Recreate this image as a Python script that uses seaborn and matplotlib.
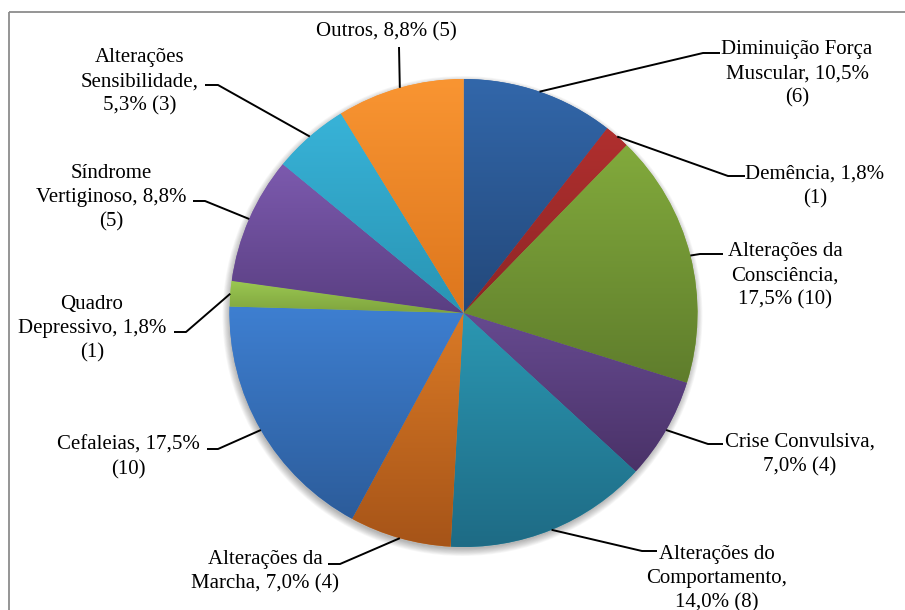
import textwrap

import numpy as np
import matplotlib
matplotlib.use("Agg")
import matplotlib.pyplot as plt
import seaborn as sns
from matplotlib.patches import Circle, Rectangle

# categories and counts, clockwise from 12 o'clock
categories = [
    "Diminuição Força Muscular",
    "Demência",
    "Alterações da Consciência",
    "Crise Convulsiva",
    "Alterações do Comportamento",
    "Alterações da Marcha",
    "Cefaleias",
    "Quadro Depressivo",
    "Síndrome Vertiginoso",
    "Alterações Sensibilidade",
    "Outros",
]
counts = [6, 1, 10, 4, 8, 4, 10, 1, 5, 3, 5]

# slice gradient (top -> bottom)
top_colors = ["#3267AA", "#B02F2E", "#82AA3C", "#664A90", "#2B97B2", "#DA7A26",
              "#3E7FD1", "#9BC852", "#7C5AAE", "#38B3D8", "#F99532"]
bottom_colors = ["#23487A", "#8E2626", "#5F7D2C", "#4A3268", "#1E6B85", "#A65418",
                 "#2C5C9A", "#7FA43E", "#5A3F82", "#2994B3", "#DD761D"]

# label layout in pixels: wrap width, text centre x, first line y, elbow points
wrap_widths = [17, 15, 13, 17, 14, 16, 17, 16, 17, 14, 20]
text_pos = [(797, 47), (815, 172), (785, 249), (800, 440), (717, 552), (265, 557),
            (128, 443), (92, 302), (111, 171), (140, 55), (386, 29)]
elbow_a = [(703, 53), (728, 176), (700, 254), (708, 444), (642, 551), (340, 564),
           (218, 449), (186, 332), (205, 201), (218, 85), (399, 47)]
elbow_b = [(720, 53), (745, 176), (723, 254), (723, 444), (657, 551), (328, 564),
           (207, 449), (174, 332), (193, 201), (205, 85), (399, 47)]

sns.set_style("white")
plt.rcParams['font.family'] = ['Liberation Serif', 'DejaVu Serif']

W, H = 905, 610
fig = plt.figure(figsize=(W / 100, H / 100), dpi=100)
ax = fig.add_axes([0, 0, 1, 1])

cx, cy, r = 463.5, 313, 234

# soft shadow under the pie
for k in range(10):
    ax.add_patch(Circle((cx - 1, cy + 3), r + 6 - k * 0.8, facecolor='black',
                        edgecolor='none', alpha=0.03, zorder=0))

wedges, _ = ax.pie(counts, center=(cx, cy), radius=r, startangle=-90,
                   counterclock=True, colors=top_colors,
                   wedgeprops={'linewidth': 0, 'edgecolor': 'none'})
for w in wedges:
    w.set_zorder(1)

# vertical gradient clipped to each slice
grad = np.linspace(0, 1, 256).reshape(-1, 1)
for w, c_top, c_bot in zip(wedges, top_colors, bottom_colors):
    ext = w.get_path().get_extents()
    cmap = sns.blend_palette([c_top, c_bot], n_colors=256, as_cmap=True)
    im = ax.imshow(grad, cmap=cmap, aspect='auto', origin='upper',
                   extent=(ext.x0, ext.x1, ext.y1, ext.y0), zorder=2,
                   interpolation='bilinear')
    im.set_clip_path(w)

ax.set_xlim(0, W)
ax.set_ylim(H, 0)
ax.set_aspect('auto')
ax.axis('off')

total = sum(counts)
line_gap = 24.3
for i, w in enumerate(wedges):
    pct = f"{100 * counts[i] / total:.1f}%".replace('.', ',')
    label = f"{categories[i]}, {pct} ({counts[i]})"
    lines = textwrap.wrap(label, wrap_widths[i])
    tx, ty = text_pos[i]
    for j, ln in enumerate(lines):
        ax.text(tx, ty + j * line_gap + 7, ln, ha='center', va='baseline',
                fontsize=15, color='black', zorder=5)
    mid = np.deg2rad((w.theta1 + w.theta2) / 2)
    px, py = cx + r * np.cos(mid), cy + r * np.sin(mid)
    ax.plot([px, elbow_a[i][0], elbow_b[i][0]], [py, elbow_a[i][1], elbow_b[i][1]],
            color='black', lw=1.4, solid_capstyle='butt', zorder=4)

# chart area border (runs off the right and bottom edges)
ax.add_patch(Rectangle((9, 12), W, H, fill=False, edgecolor='#8C8C8C',
                       lw=1.3, zorder=6, clip_on=False))

fig.savefig('out.png', dpi=100)
